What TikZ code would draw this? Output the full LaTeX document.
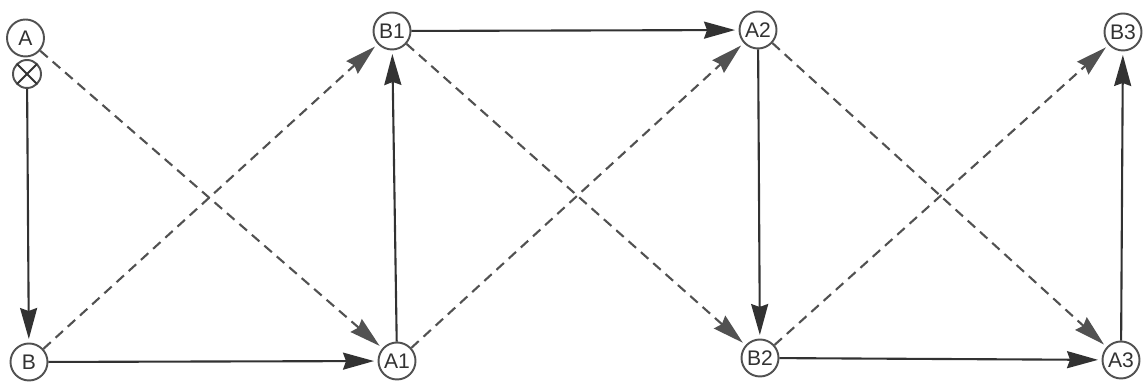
\documentclass[tikz,border=0pt]{standalone}
\usepackage{fontspec}
\setmainfont{Liberation Sans}
\usetikzlibrary{arrows.meta, calc}
\definecolor{inkgray}{RGB}{50, 50, 50}

\begin{document}
\begin{tikzpicture}[>={Stealth[length=0.62cm, width=0.34cm, inset=0.06cm]}, font=\small,
    state/.style={
        draw=inkgray!85, line width=1.1pt, circle, minimum size=0.74cm,
        inner sep=0pt, fill=white, text=inkgray, font=\fontsize{12}{13}\selectfont
    },
    solidarc/.style={->, line width=1.2pt, inkgray, shorten >=2pt},
    dasharc/.style={->, line width=1.2pt, inkgray!85, shorten >=2pt,
        dash pattern=on 0.2cm off 0.13cm},
    cross_line/.style={inkgray, line width=1.1pt},
]
\useasboundingbox (0,0) rectangle (22.92,7.66);

% ================= nodes =================
\node[state] (A)  at (0.51,6.90) {A};
\node[state, minimum size=0.56cm] (X) at (0.54,6.18) {};
\draw[cross_line] ($(X)+(-0.2,-0.2)$) -- ($(X)+(0.2,0.2)$);
\draw[cross_line] ($(X)+(-0.2,0.2)$) -- ($(X)+(0.2,-0.2)$);
\node[state] (B)  at (0.58,0.42) {B};

\node[state] (B1) at (7.84,7.04) {B1};
\node[state] (A1) at (7.94,0.44) {A1};
\node[state] (A2) at (15.16,7.06) {A2};
\node[state] (B2) at (15.20,0.50) {B2};
\node[state] (B3) at (22.46,7.02) {B3};
\node[state] (A3) at (22.42,0.46) {A3};

% ================= solid arcs =================
\draw[solidarc] (X) -- (B);
\draw[solidarc] (B) -- (A1);
\draw[solidarc] (A1) -- (B1);
\draw[solidarc] (B1) -- (A2);
\draw[solidarc] (A2) -- (B2);
\draw[solidarc] (B2) -- (A3);
\draw[solidarc] (A3) -- (B3);

% ================= dashed arcs =================
\foreach \s/\t in {A/A1, B/B1, B1/B2, A1/A2, A2/A3, B2/B3}{
    \draw[dasharc] (\s) -- (\t);
}

\end{tikzpicture}
\end{document}
